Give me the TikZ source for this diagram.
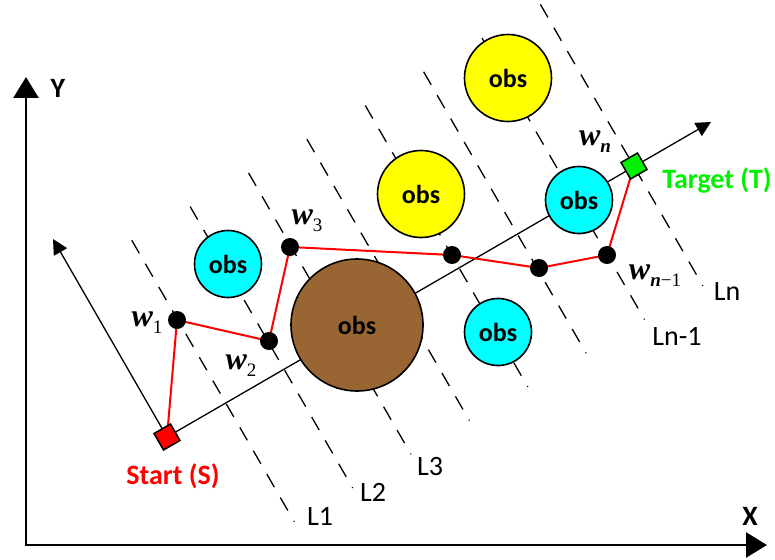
\documentclass[tikz,border=0pt]{standalone}
\usepackage{fontspec}
\setmainfont{Carlito}
\newfontfamily\tnr{Liberation Serif}
\usetikzlibrary{arrows.meta}
\definecolor{obsbrown}{RGB}{153,102,51}
\definecolor{obscyan}{RGB}{0,255,255}
\definecolor{obsyellow}{RGB}{255,255,0}
\definecolor{tgreen}{RGB}{0,240,0}
\newcommand{\wsub}[1]{{\tnr\fontsize{32}{32}\selectfont\bfseries\itshape w}\raisebox{-7pt}{\tnr\fontsize{19}{19}\selectfont #1}}
\begin{document}
\begin{tikzpicture}[x=1pt,y=-1pt,
  obs/.style={circle, draw, line width=1.6pt, inner sep=0pt, font=\fontsize{26}{26}\selectfont\bfseries},
  wp/.style={circle, fill=black, minimum size=18pt, inner sep=0pt},
  sq/.style={draw, line width=1.5pt, minimum size=19pt, inner sep=0pt, rotate=30},
  dline/.style={dash pattern=on 15pt off 12pt, line width=1.3pt},
  lab/.style={font=\fontsize{28}{28}\selectfont},
  blab/.style={font=\fontsize{28}{28}\selectfont\bfseries},
  thin/.style={line width=1.3pt},
  redpath/.style={red, line width=2pt}]
\useasboundingbox (0,0) rectangle (775,559);
% dashed lines
\foreach \k in {0,...,7}{
  \pgfmathsetmacro\s{-6+67.4*\k}
  \draw[dline] ({0.866*\s+137},{-0.5*\s+237.3}) -- ({0.866*\s+299.5},{-0.5*\s+518.7});
}
% axes
\coordinate (O) at (26,545);
\coordinate (ytip) at (26,77);
\coordinate (xtip) at (767,545);
\draw[line width=2.5pt, {Triangle[length=21pt,width=25pt]}-{Triangle[length=21pt,width=25pt]}] (ytip) |- (xtip);
\node[blab] (Y) at (58,88) {Y};
\node[blab] (X) at (750,516) {X};
% main line and perpendicular
\coordinate (Sc) at (167,437);
\coordinate (Tc) at (634,166);
\coordinate (mtip) at (711,122);
\coordinate (ptip) at (53,239);
\draw[thin, -{Triangle[length=15pt,width=15pt]}] (Sc) -- (mtip);
\draw[thin, -{Triangle[length=15pt,width=15pt]}] (Sc) -- (ptip);
% obstacles
\node[obs, fill=obscyan, minimum size=67pt] (o1) at (228,264) {obs};
\node[obs, fill=obsbrown, minimum size=132pt] (o2) at (357,325) {obs};
\node[obs, fill=obsyellow, minimum size=87pt] (o3) at (421,194) {obs};
\node[obs, fill=obsyellow, minimum size=87pt] (o4) at (508,78) {obs};
\node[obs, fill=obscyan, minimum size=67pt] (o5) at (579,200) {obs};
\node[obs, fill=obscyan, minimum size=67pt] (o6) at (498,332) {obs};
% path
\coordinate (c1) at (177,320);
\coordinate (c2) at (269,341);
\coordinate (c3) at (290,247);
\coordinate (c4) at (452,255);
\coordinate (c5) at (539,268);
\coordinate (c6) at (607,255);
\draw[redpath] (Sc) -- (c1) -- (c2) -- (c3) -- (c4) -- (c5) -- (c6) -- (Tc);
\foreach \c in {c1,c2,c3,c4,c5,c6}{\node[wp] (d\c) at (\c) {};}
\node[sq, fill=red] (S) at (Sc) {};
\node[sq, fill=tgreen] (T) at (Tc) {};
% labels
\node[blab, text=red] (Slab) at (173,476) {Start (S)};
\node[blab, text=tgreen] (Tlab) at (717,180) {Target (T)};
\node[lab] (L1) at (320,516) {L1};
\node[lab] (L2) at (373,492) {L2};
\node[lab] (L3) at (430,467) {L3};
\node[lab] (Ln1) at (677,336) {Ln-1};
\node[lab] (Ln) at (727,292) {Ln};
\node (w1) at (147,323) {\wsub{1}};
\node (w2) at (241,366) {\wsub{2}};
\node (w3) at (307,221) {\wsub{3}};
\node (wn) at (595,142) {\wsub{\bfseries\itshape n}};
\node (wn1) at (655,276) {\wsub{{\bfseries\itshape n}−1}};
\end{tikzpicture}
\end{document}
